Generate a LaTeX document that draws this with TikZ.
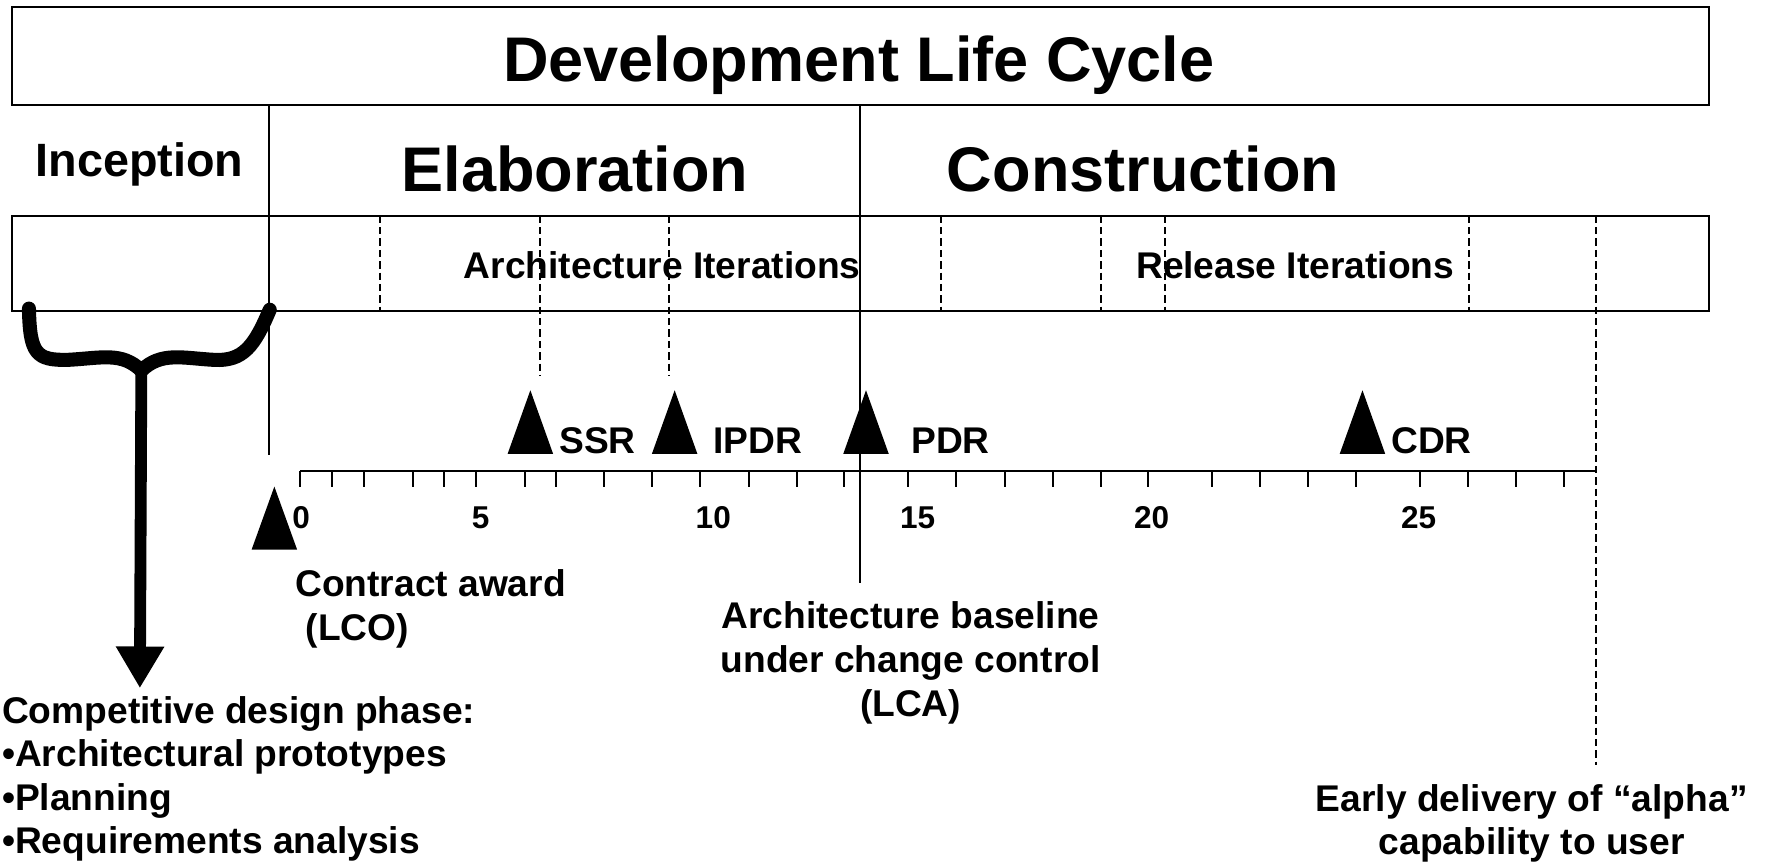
\documentclass[tikz,border=0pt]{standalone}
\usepackage{fontspec}
\setmainfont{Liberation Sans}
\usetikzlibrary{arrows.meta}
\newcommand\mlc[2]{\begin{tabular}[t]{@{}#1@{}}#2\end{tabular}}
\begin{document}
\begin{tikzpicture}[x=1pt,y=-1pt,
  thinline/.style={line width=1.8pt},
  dashline/.style={line width=1.8pt, dash pattern=on 6.5pt off 3.6pt},
  bigtext/.style={font=\fontsize{56}{67}\selectfont\bfseries, inner sep=0pt, anchor=base},
  inctext/.style={font=\fontsize{41.5}{50}\selectfont\bfseries, inner sep=0pt, anchor=base},
  midtext/.style={font=\fontsize{33}{39}\selectfont\bfseries, inner sep=0pt, anchor=base},
  listtext/.style={font=\fontsize{33}{38.5}\selectfont\bfseries, inner sep=0pt, anchor=base west},
  numtext/.style={font=\fontsize{28}{34}\selectfont\bfseries, inner sep=0pt, anchor=base},
  brace/.style={line width=12.5pt, line cap=round, line join=round},
  milestone/.style={fill=black}
]
\useasboundingbox (0,0) rectangle (1568,769);
\fill[white] (0,0) rectangle (1568,769);

% boxes
\draw[thinline] (11,6.5) rectangle (1517,93.5);
\draw[thinline] (11,191.5) rectangle (1517,276);

% titles
\node[bigtext] (title) at (762.5,72.5) {Development Life Cycle};
\node[inctext] (incep) at (124,156.3) {Inception};
\node[bigtext] (elab) at (510.5,170.2) {Elaboration};
\node[bigtext] (constr) at (1015,170.2) {Construction};
\node[midtext] (archit) at (588,247) {Architecture Iterations};
\node[midtext] (relit) at (1150,247) {Release Iterations};

% solid phase lines
\coordinate (lcoTop) at (238.5,93.5);
\coordinate (lcoBot) at (238.5,404);
\coordinate (lcaTop) at (763.7,93.5);
\coordinate (lcaBot) at (763.7,518);
\draw[thinline] (lcoTop) -- (lcoBot);
\draw[thinline] (lcaTop) -- (lcaBot);

% dashed iteration lines
\foreach \x in {337.8,835.3,977.2,1034,1304}
  \draw[dashline] (\x,191.5) -- (\x,276);
\foreach \x in {479.8,594}
  \draw[dashline] (\x,191.5) -- (\x,333);
\coordinate (alphaTop) at (1417.4,191.5);
\coordinate (alphaBot) at (1417.4,679);
\draw[dashline] (alphaTop) -- (alphaBot);

% ruler
\coordinate (rulerL) at (266.5,418);
\coordinate (rulerR) at (1417.4,418);
\draw[thinline] (rulerL) -- (rulerR);
\foreach \t in {266.5,295.1,323.2,366.4,394.5,422.6,465.8,493.9,536.6,579.1,621.8,664.7,707.3,749.6,806.5,849.1,892.0,934.6,977.2,1019.6,1076.4,1119.0,1161.6,1204.2,1261.0,1303.6,1346.3,1388.9}
  \draw[thinline] (\t,418) -- (\t,432.7);

% ruler numbers
\node[numtext] (n0) at (267.3,469) {0};
\node[numtext] (n5) at (426.8,469) {5};
\node[numtext] (n10) at (633.3,469) {10};
\node[numtext] (n15) at (814.8,469) {15};
\node[numtext] (n20) at (1022.6,469) {20};
\node[numtext] (n25) at (1259.6,469) {25};

% milestone triangles
\foreach \x in {470.9,599,768.9,1209.7}
  \fill[milestone] (\x-20.2,403) -- (\x,346.5) -- (\x+20.2,403) -- cycle;
\fill[milestone] (223.4,488) -- (243.6,432) -- (263.8,488) -- cycle;

% milestone labels
\node[midtext] (ssr) at (530.5,403) {SSR};
\node[midtext] (ipdr) at (673,403) {IPDR};
\node[midtext] (pdr) at (844,403) {PDR};
\node[midtext] (cdr) at (1271,403) {CDR};

% lower texts
\node[listtext] (contract) at (262,530) {\mlc{l}{Contract award\\\ (LCO)}};
\node[midtext] (lca) at (808.5,557.8) {\mlc{c}{Architecture baseline\\under change control\\(LCA)}};
\node[listtext] (compet) at (1.7,642.2) {\mlc{l}{Competitive design phase:\\•Architectural prototypes\\•Planning\\•Requirements analysis}};
\node[font=\fontsize{33}{38.4}\selectfont\bfseries, inner sep=0pt, anchor=base] (alpha) at (1360,720.6) {\mlc{c}{Early delivery of “alpha”\\capability to user}};

% brace and arrow
\coordinate (braceL) at (25.7,274);
\coordinate (braceR) at (239.5,275);
\coordinate (junct) at (125.5,329);
\coordinate (tip) at (124.2,611);
\draw[brace] (braceL) .. controls (26.5,314) and (32,320) .. (60,319.5)
  .. controls (90,318) and (108,312) .. (junct)
  .. controls (143,312) and (162,318) .. (190,319.5)
  .. controls (216,321) and (226,307) .. (braceR);
\draw[line width=10.5pt, -{Triangle[width=40.5pt,length=37pt]}] (junct) -- (tip);
\end{tikzpicture}
\end{document}
